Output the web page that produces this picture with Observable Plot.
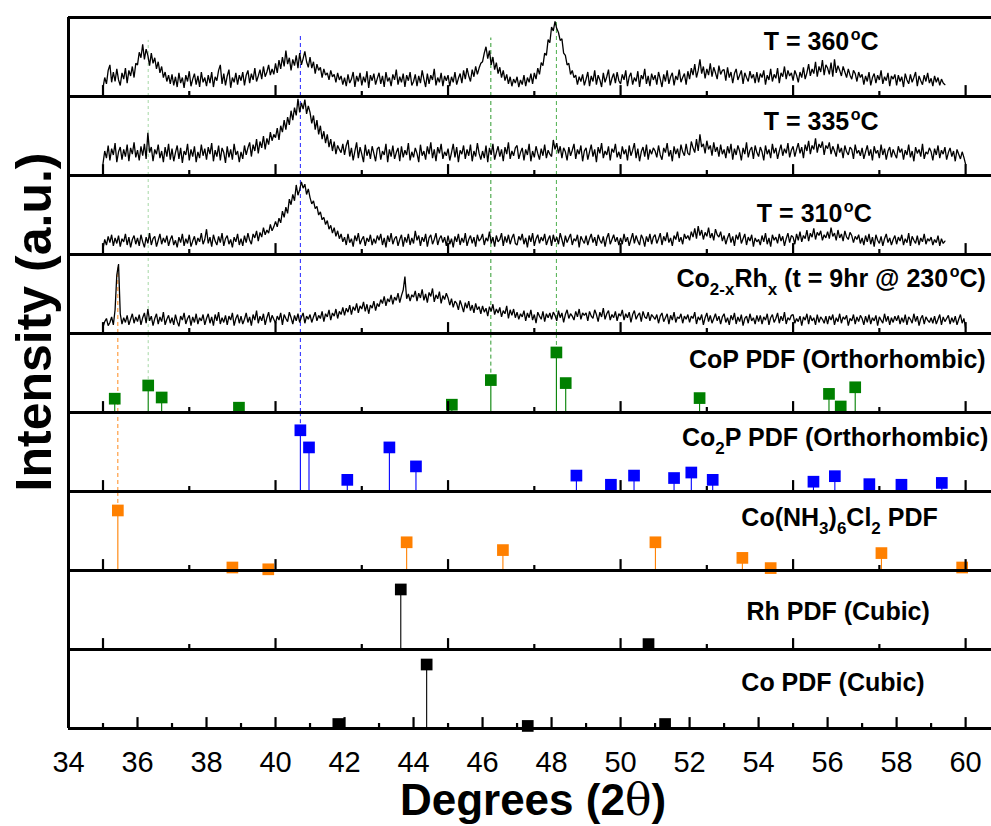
<!DOCTYPE html>
<html><head><meta charset="utf-8">
<script src="https://cdn.jsdelivr.net/npm/d3@7"></script>
<script src="https://cdn.jsdelivr.net/npm/@observablehq/plot@0.6"></script>
<style>
body{margin:0;background:#fff}
#chart{position:relative;width:991px;height:826px}
</style>
</head><body><div id="chart"></div>
<script>
// ---------- panels (top to bottom) ----------
const panels = ["T360","T335","T310","CoRh","CoP","Co2P","CoNH","Rh","Co"];
const panelLabels = [
  "T = 360^{o}C",
  "T = 335^{o}C",
  "T = 310^{o}C",
  "Co_{2-x}Rh_{x} (t = 9hr @ 230^{o}C)",
  "CoP PDF (Orthorhombic)",
  "Co_{2}P PDF (Orthorhombic)",
  "Co(NH_{3})_{6}Cl_{2} PDF",
  "Rh PDF (Cubic)",
  "Co PDF (Cubic)"
];

// ---------- measured scans (2theta start/step, intensity a.u.) ----------
const scanStart = 35.0, scanStep = 0.05;
const trace360 = [
 11,24,16,33,40,18,31,19,35,21,14,30,22,36,17,33,26,38,24,42,
 40,56,49,66,47,60,52,39,55,42,49,35,44,30,38,24,31,19,27,16,
 28,14,25,12,30,17,24,11,27,19,32,13,22,29,15,26,12,31,18,24,
 13,27,17,31,12,25,20,33,40,16,29,14,26,34,11,24,18,30,15,27,
 20,31,14,27,33,17,29,21,36,19,26,34,22,38,25,31,40,27,35,28,
 42,30,46,35,50,38,58,41,49,33,47,39,52,36,55,40,48,57,44,37,
 50,36,44,29,41,33,37,24,35,27,30,21,33,25,28,18,30,21,26,15,
 24,13,28,17,22,31,12,26,19,30,14,25,18,32,11,27,20,29,15,23,
 30,16,26,12,31,19,24,13,28,21,34,15,25,18,29,12,27,20,31,14,
 19,28,13,26,17,33,22,12,29,16,27,21,35,14,24,18,30,13,26,20,
 27,13,25,18,31,15,23,29,17,33,22,36,26,19,34,25,38,28,36,42,
 44,55,63,48,58,40,50,34,43,29,37,24,33,20,28,16,25,13,22,17,
 25,12,21,15,27,13,24,18,29,16,30,22,36,28,43,39,55,52,72,68,
 88,83,95,86,81,71,73,55,52,40,42,28,33,24,27,15,25,19,28,14,
 22,31,13,26,19,33,15,27,21,12,30,18,25,34,14,23,29,17,31,20,
 16,28,21,33,13,25,30,15,24,19,32,12,27,22,35,16,26,13,29,21,
 27,15,31,22,12,28,19,33,16,25,30,14,26,21,34,18,24,29,15,32,
 22,36,27,41,24,33,47,29,38,23,35,27,42,25,37,30,22,39,28,33,
 34,20,37,24,31,17,29,35,21,27,33,16,30,24,19,32,23,28,17,31,
 18,29,24,33,15,27,21,35,19,28,23,36,17,30,25,38,22,33,26,30,
 20,33,27,18,31,24,37,22,30,41,26,35,29,44,25,38,31,46,27,40,
 36,28,43,25,47,30,39,33,26,38,31,24,35,27,22,33,29,19,31,24,
 28,15,26,19,31,14,24,29,17,27,21,33,16,25,20,30,13,26,22,28,
 14,27,19,25,12,29,21,16,28,18,24,31,13,26,20,15,27,19,30,17,
 23,13,26,18,24,14,22,17,15];
const trace335 = [
 15,31,22,38,19,34,26,41,17,30,36,20,33,24,39,18,35,27,42,23,
 32,19,37,25,40,21,54,29,36,18,33,27,39,22,31,17,36,24,40,20,
 34,18,29,38,21,35,16,31,26,40,19,33,24,37,17,30,22,39,25,34,
 20,36,27,41,18,32,24,38,19,35,29,16,37,23,33,20,40,26,31,17,
 30,21,38,26,35,42,24,39,31,46,28,43,35,50,33,47,39,55,44,52,
 48,60,45,63,55,70,58,74,64,82,70,86,76,97,80,92,84,96,78,88,
 80,66,76,58,70,52,63,46,56,41,52,36,46,31,43,27,38,33,29,40,
 26,38,45,24,35,19,31,42,22,36,27,17,39,25,33,21,37,28,18,34,
 36,20,31,26,40,17,33,24,38,21,29,35,18,37,23,32,26,41,19,30,
 23,35,28,17,39,25,31,20,37,27,42,22,33,18,36,28,40,21,30,25,
 34,19,29,40,23,36,17,32,27,38,21,33,25,39,18,31,24,41,28,20,
 31,22,38,17,35,26,40,20,29,37,24,33,18,36,27,42,21,31,25,35,
 38,21,29,35,19,33,26,40,18,31,23,37,28,20,34,25,39,22,32,27,
 24,45,33,41,28,37,22,35,30,19,36,25,32,40,21,33,27,38,18,31,
 35,20,30,39,24,33,17,36,28,41,22,31,26,37,19,34,29,40,23,30,
 21,37,27,33,19,38,25,32,41,22,34,18,30,36,24,39,20,33,27,35,
 31,23,38,26,20,35,29,41,24,32,18,37,27,34,22,39,30,25,40,28,
 26,43,35,29,46,31,52,36,40,28,44,33,38,25,42,30,36,24,39,27,
 33,22,37,28,40,20,34,26,38,31,19,35,27,42,23,32,36,21,38,29,
 24,36,30,19,38,27,33,22,40,28,35,21,31,39,25,34,28,41,23,32,
 37,24,33,41,28,36,22,39,31,44,27,38,33,47,29,40,35,43,26,38,
 34,42,27,37,31,24,40,29,35,22,38,30,26,36,33,21,39,28,32,25,
 35,21,30,38,25,33,19,37,28,32,22,39,26,34,20,31,36,23,33,27,
 22,37,29,34,20,32,26,39,23,31,18,36,28,33,24,40,21,30,27,35,
 30,19,34,26,38,22,32,27,36,20,29,35,24,31,18,33,27,21,30,23,
 14];
const trace310 = [
 7,19,12,23,15,25,11,21,14,24,10,20,16,26,12,22,9,19,24,13,
 21,11,25,16,9,22,14,27,12,20,23,10,18,26,13,21,15,24,11,19,
 24,12,18,9,22,15,26,11,20,14,25,10,17,23,12,21,16,27,13,19,
 32,14,22,10,25,17,12,23,15,27,11,20,24,13,19,9,22,16,26,12,
 20,11,24,15,27,18,13,26,21,30,17,28,22,34,25,31,27,38,30,35,
 42,35,46,40,55,47,60,52,70,63,76,68,88,75,82,92,84,89,76,83,
 72,64,68,58,61,50,54,44,47,38,43,32,37,27,34,23,30,20,26,16,
 22,12,26,15,20,10,24,17,27,13,19,23,11,21,16,25,12,20,14,24,
 18,26,12,21,9,24,16,27,13,20,23,11,19,25,10,22,15,26,12,21,
 14,30,18,24,11,22,16,26,10,21,25,13,19,27,12,20,24,15,22,11,
 24,13,20,9,23,16,26,12,21,15,27,11,19,24,14,22,10,25,17,20,
 26,12,21,17,29,14,22,10,24,16,19,27,11,23,15,25,13,21,26,14,
 12,23,18,26,13,21,9,24,16,27,11,20,25,14,22,17,26,12,19,24,
 11,25,16,22,13,27,19,10,24,15,21,26,12,20,17,25,9,23,18,14,
 24,12,20,26,15,22,11,25,18,14,23,10,21,27,13,19,25,16,22,12,
 21,13,26,16,22,11,19,27,14,24,17,12,25,20,10,23,16,26,13,22,
 25,14,20,27,12,23,17,28,15,21,11,24,19,29,16,22,13,26,20,24,
 18,29,22,33,20,36,24,31,19,28,23,34,21,27,18,32,25,22,29,17,
 24,13,21,27,15,23,11,25,19,28,14,20,26,12,22,17,25,10,21,16,
 19,12,24,16,27,13,21,10,25,18,22,14,26,17,23,11,20,27,15,24,
 22,13,26,18,29,16,24,20,31,17,27,22,33,19,28,24,30,18,25,21,
 29,20,34,23,27,18,31,21,26,17,30,22,19,28,24,15,23,19,25,14,
 21,12,24,16,26,13,22,10,25,18,14,23,11,20,26,15,21,12,19,24,
 13,22,17,25,12,20,15,27,11,23,18,14,24,12,21,16,26,13,20,17,
 22,12,19,15,24,11,20,14,17];
const traceCoRh = [
 8,15,19,10,14,21,11,30,74,88,25,12,20,14,23,11,18,25,13,21,
 15,24,11,20,26,13,31,16,22,10,19,25,12,21,15,27,11,18,23,13,
 20,11,24,15,9,22,17,26,12,19,23,10,21,14,25,12,20,16,24,11,
 19,25,13,21,10,24,16,27,12,20,14,23,11,22,17,26,10,19,24,13,
 22,12,18,26,14,21,10,24,17,29,13,22,16,25,11,20,27,14,23,18,
 13,22,17,26,11,24,19,15,27,20,12,23,16,25,14,21,26,13,22,18,
 24,14,21,27,16,23,19,28,15,25,21,30,17,26,22,31,19,28,24,33,
 23,32,27,36,24,34,29,38,26,35,31,40,28,37,25,36,32,41,29,38,
 34,43,38,47,35,44,40,49,37,46,42,51,39,48,55,72,44,50,41,49,
 46,54,41,51,45,56,42,50,39,52,47,57,40,49,44,53,38,48,43,51,
 45,36,44,33,41,38,30,42,35,27,39,32,41,29,36,26,38,30,34,25,
 35,27,32,22,34,28,37,24,31,26,33,21,29,25,35,19,30,23,31,20,
 27,18,25,21,29,16,26,20,30,17,24,13,27,22,18,28,15,25,20,26,
 18,27,23,16,29,20,26,14,24,30,19,25,22,17,28,21,31,18,26,23,
 26,16,28,22,19,30,24,15,27,21,32,18,25,29,17,24,20,28,16,25,
 22,30,17,25,20,27,14,24,29,18,23,26,15,28,21,19,27,16,24,21,
 18,24,13,22,26,15,20,25,12,23,17,27,14,21,19,25,13,22,18,24,
 14,22,19,27,12,21,17,24,11,20,26,15,23,13,19,25,16,22,12,21,
 25,14,20,11,23,17,26,12,21,15,24,10,19,22,13,25,16,20,12,23,
 15,23,12,21,17,25,11,20,24,14,19,26,13,22,16,27,12,20,17,23,
 24,13,19,15,22,10,21,17,25,12,23,16,20,11,24,14,21,18,13,22,
 12,22,17,24,11,20,15,25,13,21,18,23,10,19,16,24,12,21,15,23,
 19,11,22,14,24,12,20,16,23,10,21,17,13,25,15,22,11,20,14,22,
 16,23,12,20,14,24,11,21,18,13,25,15,22,10,19,23,12,21,17,14,
 20,13,22,12,18,24,11,21,15,19,23,12,20,14,22,11,18,24,13,19,
 7];

// ---------- reference patterns (2theta, relative intensity %) ----------
const copAngle  = [35.34,36.31,36.70,38.94,45.11,46.24,48.14,48.41,52.29,56.04,56.38,56.80];
const copInt    = [23,45,25,8,13,54,100,49,24,31,10,42];
const co2pAngle = [40.72,40.97,42.08,43.30,44.07,48.72,49.72,50.39,51.55,52.05,52.67,55.59,56.21,57.21,58.14,59.31];
const co2pInt   = [100,72,19,72,41,26,11,26,22,31,19,16,25,12,11,14];
const conhAngle = [35.43,38.75,39.79,43.80,46.59,51.01,53.53,54.35,57.56,59.90];
const conhInt   = [100,5,2,47,34,47,21,4,29,5];
const rhAngle   = [43.63,50.81];
const rhInt     = [100,9];
const coAngle   = [41.82,44.38,47.31,51.29];
const coInt     = [7,100,4,7];

// ---------- axis ticks ----------
const xTickLabels = [34,36,38,40,42,44,46,48,50,52,54,56,58,60];
const upperTicks  = [35,37.5,40,42.5,45,47.5,50,52.5,55,57.5,60];
const bottomTicks = [35,36,37,38,39,40,41,42,43,44,45,46,47,48,49,50,51,52,53,54,55,56,57,58,59,60];

// ---------- layout / style (not data) ----------
const stickSets = [
  {panel:"CoP",  angle:copAngle,  inten:copInt,  color:"#008000", k:0.76},
  {panel:"Co2P", angle:co2pAngle, inten:co2pInt, color:"#0000ff", k:0.775},
  {panel:"CoNH", angle:conhAngle, inten:conhInt, color:"#ff8000", k:0.76},
  {panel:"Rh",   angle:rhAngle,   inten:rhInt,   color:"#000000", k:0.76},
  {panel:"Co",   angle:coAngle,   inten:coInt,   color:"#000000", k:0.81}
];
const traceSets = [
  {panel:"T360", values:trace360},
  {panel:"T335", values:trace335},
  {panel:"T310", values:trace310},
  {panel:"CoRh", values:traceCoRh}
];
const labelPos = [[54.15,58.6],[54.15,57.3],[53.95,41.4],[51.62,58.6],[51.98,56.6],[51.78,57.3],[53.5,56.8],[53.65,37.2],[53.5,47.8]];
// guide lines: angle, from panel (stick), up to panel at level
const guides = [
  {x:35.43, from:"CoNH", fromY:76, to:"CoRh", toY:83, color:"#ff8a1c", dash:"4,3", w:1},
  {x:36.31, from:"CoP",  fromY:34, to:"T360", toY:71, color:"#8fcf8f", dash:"3,3", w:0.8},
  {x:40.72, from:"Co2P", fromY:77, to:"T360", toY:78, color:"#2222ff", dash:"4,3", w:1},
  {x:46.24, from:"CoP",  fromY:41, to:"T360", toY:74, color:"#2f9a2f", dash:"4,3", w:1},
  {x:48.14, from:"CoP",  fromY:76, to:"T360", toY:100, color:"#4caf4c", dash:"4,3", w:1}
];

// ---------- build tables ----------
const traceRows = traceSets.flatMap(t => t.values.map((v,i) => ({panel:t.panel, x:+(scanStart + i*scanStep).toFixed(2), y:v})));
const stickRows = stickSets.flatMap(s => s.angle.map((a,i) => ({panel:s.panel, x:a, y:s.inten[i]*s.k, color:s.color})));
const tickRows = panels.flatMap(p => p === "Co"
  ? bottomTicks.map(t => ({panel:p, x:t, len: t % 2 === 0 ? 13.8 : 6.3}))
  : upperTicks.map(t => ({panel:p, x:t, len: t % 5 === 0 ? 13.8 : 6.3})));
const labelRows = panels.map((p,i) => ({panel:p, text:panelLabels[i], x:labelPos[i][0], y:labelPos[i][1]}));
const guideMarks = guides.map(g => {
  const i0 = panels.indexOf(g.to), i1 = panels.indexOf(g.from);
  const segs = [];
  for (let i = i0; i <= i1; i++) {
    segs.push({panel:panels[i], x:g.x,
      y1: i === i1 ? g.fromY : 0,
      y2: i === i0 ? g.toY : 100});
  }
  return Plot.ruleX(segs, {x:"x", y1:"y1", y2:"y2", fy:"panel", stroke:g.color, strokeWidth:g.w, strokeDasharray:g.dash});
});

const chart = Plot.plot({
  width: 991, height: 826,
  marginLeft: 68, marginRight: 0, marginTop: 14, marginBottom: 95,
  style: {fontFamily: "'Liberation Sans', Arial, sans-serif", fontSize: "29px", background: "#fff", overflow: "visible"},
  x: {domain: [34, 60.75], ticks: xTickLabels, tickSize: 0, tickPadding: 23, label: null, tickFormat: d => String(d)},
  y: {domain: [0, 100], axis: null},
  fy: {domain: panels, padding: 0, axis: null, label: null},
  marks: [
    ...guideMarks,
    Plot.ruleX(stickRows, {x:"x", y1:0, y2:"y", fy:"panel", stroke:"color", strokeWidth:1.1}),
    Plot.dot(stickRows, {x:"x", y:"y", fy:"panel", symbol:"square", r:6.6, fill:"color", stroke:"none"}),
    Plot.line(traceRows, {x:"x", y:"y", z:"panel", fy:"panel", stroke:"#000", strokeWidth:1.3, strokeLinejoin:"miter"}),
    Plot.ruleX(tickRows, {x:"x", y1:0, y2:"len", fy:"panel", stroke:"#000", strokeWidth:2.2}),
    Plot.ruleY([0, 100], {stroke:"#000", strokeWidth:3}),
    Plot.ruleX([34], {stroke:"#000", strokeWidth:3}),
    Plot.text(labelRows, {x:"x", y:"y", fy:"panel", text:"text", textAnchor:"start", lineAnchor:"bottom", fontSize:25, fontWeight:"bold", fill:"#000"})
  ]
});

// sub / superscripts in panel labels
chart.querySelectorAll("text").forEach(t => {
  const s = t.textContent;
  if (!/[_^]\{/.test(s)) return;
  const parts = s.split(/([_^]\{[^}]*\})/).filter(p => p.length);
  while (t.firstChild) t.removeChild(t.firstChild);
  let shift = 0;
  for (const p of parts) {
    const ts = document.createElementNS("http://www.w3.org/2000/svg", "tspan");
    let target = 0, txt = p, size = null;
    if (p.startsWith("^{")) { target = -10; txt = p.slice(2, -1); size = 16; }
    else if (p.startsWith("_{")) { target = 8; txt = p.slice(2, -1); size = 17; }
    ts.setAttribute("dy", target - shift);
    if (p.startsWith("^{")) ts.setAttribute("dx", 1.5);
    shift = target;
    if (size) ts.setAttribute("font-size", size);
    ts.textContent = txt;
    t.appendChild(ts);
  }
});

// axis titles
const sv = d3.select(chart);
sv.append("text").attr("transform", "translate(51,322) rotate(-90)")
  .attr("text-anchor", "middle").attr("font-size", 50).attr("font-weight", "bold")
  .attr("fill", "#000").text("Intensity (a.u.)");
const xt = sv.append("text").attr("x", 533).attr("y", 815)
  .attr("text-anchor", "middle").attr("font-size", 44).attr("font-weight", "bold").attr("fill", "#000");
xt.append("tspan").text("Degrees (2");
xt.append("tspan").attr("font-weight", "normal").attr("font-family", "'DejaVu Serif', serif").text("θ");
xt.append("tspan").text(")");

document.getElementById("chart").appendChild(chart);
</script>
</body></html>
